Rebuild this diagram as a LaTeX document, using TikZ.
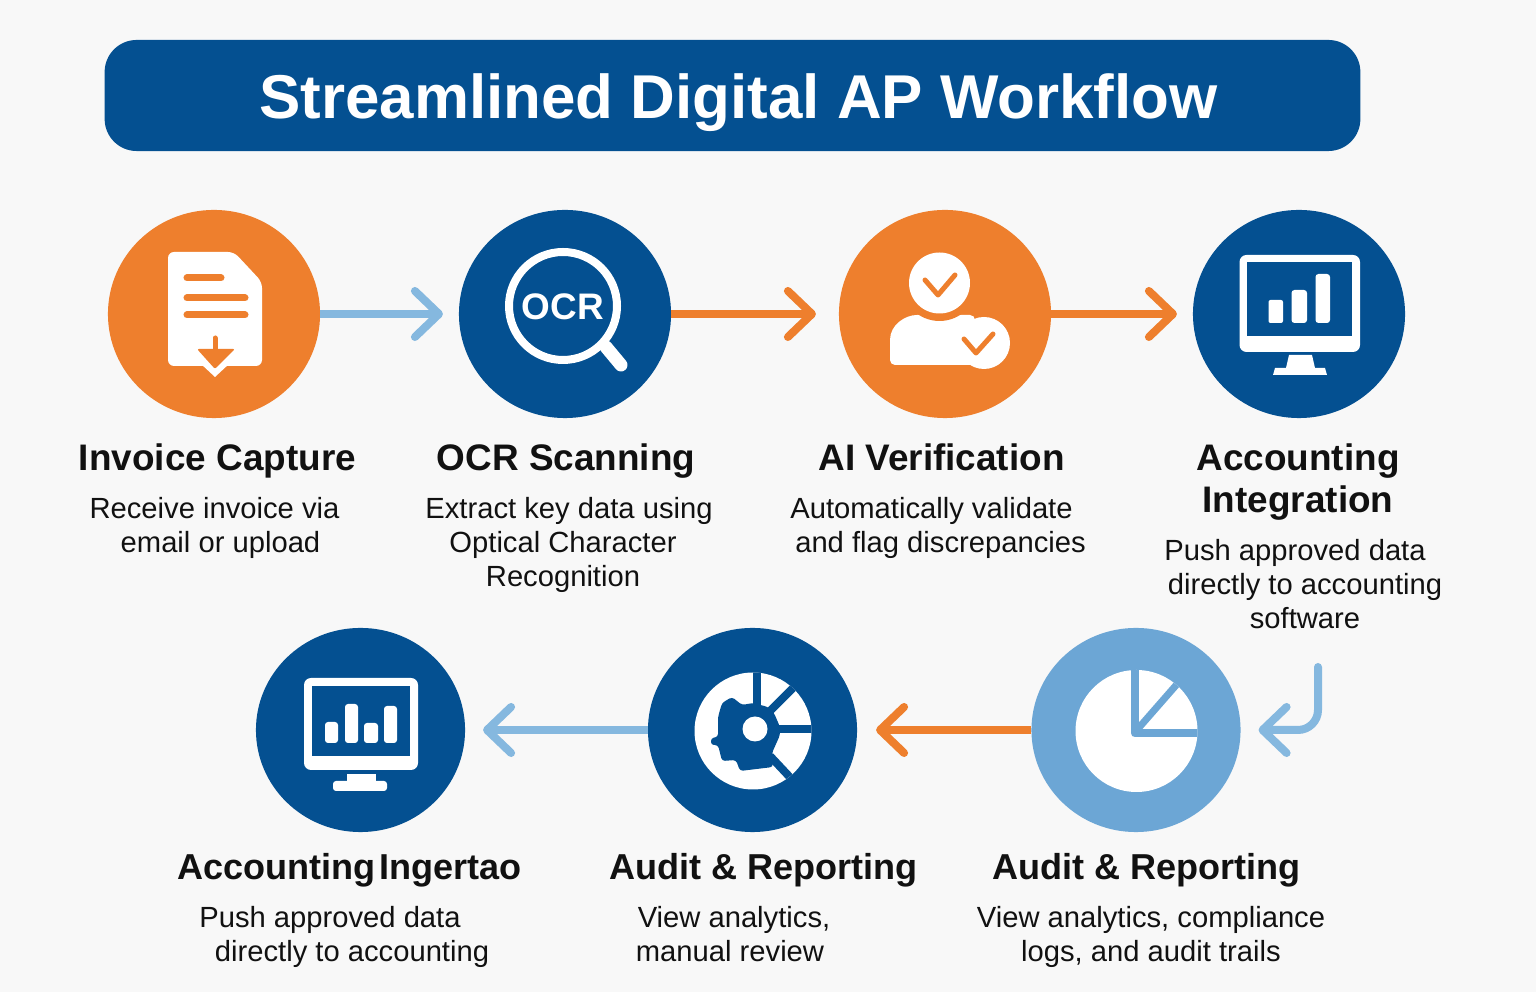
\documentclass[tikz,border=0pt]{standalone}
\usepackage{fontspec}
\setmainfont{Liberation Sans}
\usetikzlibrary{arrows.meta,shapes.geometric}
\definecolor{apblue}{HTML}{045091}
\definecolor{aporange}{HTML}{EE7F2D}
\definecolor{aplight}{HTML}{6CA6D5}
\definecolor{aparrow}{HTML}{85B8DF}
\definecolor{appage}{HTML}{F8F8F8}
\definecolor{apink}{HTML}{111111}
\tikzset{stepnode/.style={ellipse, minimum width=2.12cm, minimum height=2.08cm, inner sep=0, outer sep=0, fill=#1}}
\tikzset{lowerrow/.style={minimum width=2.09cm, minimum height=2.04cm}}
\tikzset{arr/.style={draw=#1, line width=0.08cm, -{Straight Barb[length=0.24cm, width=0.46cm, round]}}}
\tikzset{heading/.style={text=apink, align=center, inner sep=0, font=\bfseries\fontsize{10.5}{11.9}\selectfont}}
\tikzset{lowerhead/.style={text=apink, inner sep=0, font=\bfseries\fontsize{10.25}{11.9}\selectfont}}
\tikzset{blurb/.style={text=apink, align=center, inner sep=0, font=\fontsize{8.3}{9.64}\selectfont}}
\tikzset{iconstroke/.style={draw=#1, line width=0.05cm, line cap=round, line join=round}}

\begin{document}
\begin{tikzpicture}[x=0.01cm, y=-0.01cm]
    \fill[appage] (0,0) rectangle (1536,992);
    \useasboundingbox (0,0) rectangle (1536,992);

    \node[fill=apblue, rounded corners=0.32cm, minimum width=12.55cm, minimum height=1.11cm, inner sep=0] (title) at (732.5,95.5) {};
    \node[text=white, inner sep=0, anchor=base, font=\bfseries\fontsize{17.6}{20}\selectfont] (titletext) at (738.5,119) {Streamlined Digital AP Workflow};

    \node[stepnode=aporange] (capture) at (214,314) {};
    \node[stepnode=apblue] (ocr) at (565,314) {};
    \node[stepnode=aporange] (verify) at (945,314) {};
    \node[stepnode=apblue] (integrate) at (1299,314) {};
    \node[stepnode=aplight, lowerrow] (auditA) at (1136,730) {};
    \node[stepnode=apblue, lowerrow] (auditB) at (752.5,730) {};
    \node[stepnode=apblue, lowerrow] (ingertao) at (360.5,730) {};
    \coordinate (bend) at (1318,667);

    \draw[arr=aparrow, shorten >=0.16cm] (capture) -- (ocr);
    \draw[arr=aporange, shorten >=0.23cm] (ocr) -- (verify);
    \draw[arr=aporange, shorten >=0.16cm] (verify) -- (integrate);
    \draw[arr=aparrow, line cap=round, rounded corners=0.2cm, shorten >=0.18cm] (bend) |- (auditA);
    \draw[arr=aporange, shorten >=0.19cm] (auditA) -- (auditB);
    \draw[arr=aparrow, shorten >=0.18cm] (auditB) -- (ingertao);

    % document
    \fill[white, rounded corners=0.06cm] (168,252) -- (234,252) -- (262,282) -- (262,366) -- (168,366) -- cycle;
    \fill[white] (201,364) -- (229,364) -- (215,377) -- cycle;
    \draw[aporange, line width=0.07cm, line cap=round] (187,278) -- (221,278);
    \draw[aporange, line width=0.07cm, line cap=round] (187,298) -- (245,298);
    \draw[aporange, line width=0.07cm, line cap=round] (187,315) -- (245,315);
    \draw[aporange, line width=0.05cm, line cap=round] (215,338) -- (215,352);
    \fill[aporange, rounded corners=0.02cm] (197,349) -- (235,349) -- (215,369) -- cycle;

    % magnifier
    \draw[white, line width=0.13cm, line cap=round] (606,347) -- (621,365);
    \draw[white, line width=0.08cm, fill=apblue] (563,306) circle (54);
    \node[text=white, inner sep=0, font=\bfseries\fontsize{10.5}{12}\selectfont] (ocrword) at (563,307) {OCR};

    % person
    \fill[white, rounded corners=0.05cm] (890,365) -- (890,345) .. controls (890,325) and (905,315) .. (922,315) -- (975,315) -- (975,365) -- cycle;
    \fill[aporange] (939.5,283) circle (38);
    \fill[white] (939.5,283) circle (30.5);
    \fill[white] (984,343) circle (26);
    \draw[iconstroke=aporange] (925,280) -- (938,295) -- (955,275);
    \draw[iconstroke=aporange] (964,339) -- (976,353) -- (993,334);

    % monitor one
    \fill[white, rounded corners=0.07cm] (1239.5,255) rectangle (1360,352);
    \fill[apblue] (1247,262) rectangle (1352,336);
    \fill[white, rounded corners=0.02cm] (1268.5,300) rectangle (1283,323);
    \fill[white, rounded corners=0.03cm] (1291.5,290) rectangle (1307,323);
    \fill[white, rounded corners=0.03cm] (1315.5,274) rectangle (1330,323);
    \fill[white] (1289,355) -- (1312,355) -- (1315,368) -- (1325,368) -- (1327,375) -- (1273,375) -- (1275,368) -- (1286,368) -- cycle;

    % pie
    \fill[white] (1136.5,731) circle (61);
    \begin{scope}
        \clip (1136.5,731) circle (61);
        \draw[aplight, line width=0.08cm, line join=round] (1135,660) -- (1135,733.5) -- (1205,733.5);
        \draw[aplight, line width=0.07cm] (1136,731) -- (1185,675);
    \end{scope}

    % gauge
    \fill[white] (753,731) circle (58.5);
    \begin{scope}
        \clip (753,731) circle (58.5);
        \draw[apblue, line width=0.08cm] (757,665) -- (757,710);
        \draw[apblue, line width=0.08cm] (768,713) -- (805,676);
        \draw[apblue, line width=0.08cm] (775,729) -- (820,729);
        \draw[apblue, line width=0.08cm] (770,756) -- (800,788);
    \end{scope}
    \fill[apblue, rounded corners=0.03cm] (732,697) -- (742,705) -- (753,703) -- (768,707) -- (774,713) -- (780,727) -- (780,735) -- (772,753) -- (773,767) -- (740,771) -- (736,760) -- (722,761) -- (718,745) -- (711,745) -- (711,738) -- (718,737) -- (718,717) -- (722,703) -- cycle;
    \fill[white] (755,729) circle (12.5);

    % monitor two
    \fill[white, rounded corners=0.07cm] (304,678) rectangle (418,770);
    \fill[apblue] (312,686) rectangle (410,756);
    \fill[white, rounded corners=0.03cm] (325,722) rectangle (338,743);
    \fill[white, rounded corners=0.03cm] (345,704) rectangle (358,743);
    \fill[white, rounded corners=0.03cm] (364,723) rectangle (378,743);
    \fill[white, rounded corners=0.03cm] (384,706) rectangle (397,743);
    \fill[white] (347,774) rectangle (376,782);
    \fill[white, rounded corners=0.03cm] (333,781) rectangle (387,791);

    % labels
    \node[heading, anchor=base] (captureT) at (217.5,471) {Invoice Capture};
    \node[blurb, anchor=north] (captureD) at (217,497) {\hspace*{-0.05cm}Receive invoice via\\\hspace*{0.07cm}email or upload};
    \node[heading, anchor=base] (ocrT) at (566,471) {OCR Scanning};
    \node[blurb, anchor=north] (ocrD) at (563,497) {\hspace*{0.12cm}Extract key data using\\Optical Character\\Recognition};
    \node[heading, anchor=base] (verifyT) at (941.5,471) {AI Verification};
    \node[blurb, anchor=north] (verifyD) at (936,497) {\hspace*{-0.09cm}Automatically validate\\\hspace*{0.09cm}and flag discrepancies};
    \node[heading, anchor=north] (integrateT) at (1298,443) {Accounting\\Integration};
    \node[blurb, anchor=north] (integrateD) at (1305,539) {\hspace*{-0.2cm}Push approved data\\directly to accounting\\software};
    \node[lowerhead, anchor=base] (ingertaoT) at (349.5,880) {Accounting\hspace{0.04cm}Ingertao};
    \node[blurb, anchor=north] (ingertaoD) at (341,906) {\hspace*{-0.22cm}Push approved data\\\hspace*{0.22cm}directly to accounting};
    \node[lowerhead, anchor=base] (auditBT) at (763.5,880) {Audit \& Reporting};
    \node[blurb, anchor=north] (auditBD) at (730,906) {\hspace*{0.08cm}View analytics,\\manual review};
    \node[lowerhead, anchor=base] (auditAT) at (1146.5,880) {Audit \& Reporting};
    \node[blurb, anchor=north] (auditAD) at (1151,906) {View analytics, compliance\\logs, and audit trails};
\end{tikzpicture}
\end{document}
